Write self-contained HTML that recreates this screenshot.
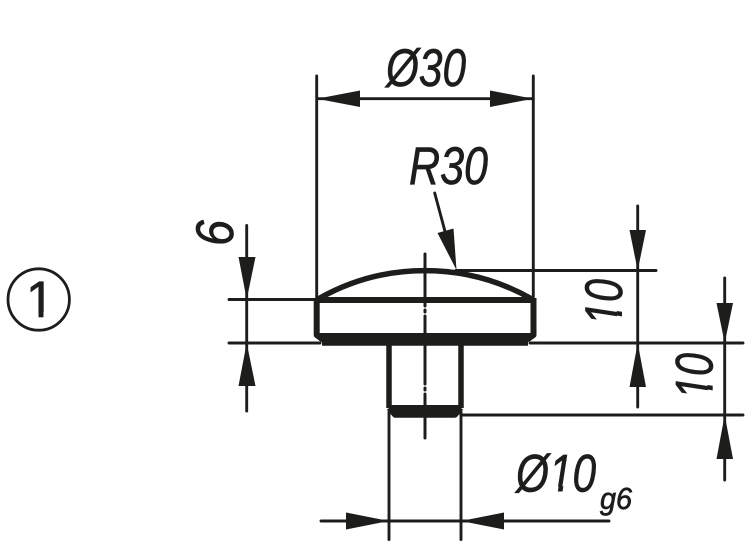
<!DOCTYPE html>
<html>
<head>
<meta charset="utf-8">
<style>
html,body{margin:0;padding:0;background:#fff}
svg{display:block}
text{font-family:"Liberation Sans",sans-serif;fill:#1d1d1b;stroke:#1d1d1b;stroke-width:.7px;font-kerning:none}
.i{font-style:italic;font-size:53px}
</style>
</head>
<body>
<svg width="750" height="547" viewBox="0 0 750 547" xmlns="http://www.w3.org/2000/svg">
<defs>
<clipPath id="nofoot"><rect x="-10" y="-60" width="100" height="55"/></clipPath>
<clipPath id="nofoot2"><rect x="0" y="260" width="80" height="52"/></clipPath>
</defs>
<rect width="750" height="547" fill="#fff"/>
<!-- thin lines -->
<g stroke="#1d1d1b" stroke-width="2.9" fill="none" stroke-linecap="round">
<path d="M316.7 76V298M533.3 76V298"/>
<path d="M317 98.7H533"/>
<path d="M246.7 225.5V411"/>
<path d="M229 299.5H316M229 343H320"/>
<path d="M637.7 206V407"/>
<path d="M456 270.5H656"/>
<path d="M530 343H743"/>
<path d="M724.7 278V480"/>
<path d="M461 415H743"/>
<path d="M321 521H609"/>
<path d="M389 412V539.5M461 412V539.5"/>
<path d="M434.7 193L450 250"/>
</g>
<!-- arrowheads -->
<g fill="#1d1d1b">
<path d="M317 98.7L360 90.5V107Z"/>
<path d="M533 98.7L490 90.5V107Z"/>
<path d="M246.7 299.5L238.5 257H255.5Z"/>
<path d="M246.7 343L238.5 386H255.5Z"/>
<path d="M637.7 270.5L629.5 230H646Z"/>
<path d="M637.7 343L629.5 387H646Z"/>
<path d="M724.7 343L716.5 303H733Z"/>
<path d="M724.7 415L716.5 459H733Z"/>
<path d="M389 521L346 512.5V529.5Z"/>
<path d="M461 521L504 512.5V529.5Z"/>
<path d="M456.5 270L437.5 233L453.5 228.5Z"/>
</g>
<!-- centre line -->
<g stroke="#1d1d1b" stroke-width="3" fill="none">
<path d="M425 254V306M425 310V312M425 316V384M425 388V390M425 394V438" stroke-linecap="round"/>
</g>
<!-- part body -->
<g stroke="#1d1d1b" fill="none" stroke-linejoin="round">
<path d="M319 298.5C350 281 385 270.6 425 270.6C465 270.6 500 281 531 298.5" stroke-width="5.5"/>
<path d="M317 300H533.5" stroke-width="6"/>
<path d="M316.7 298V335L322 339H528L533.5 335V298" stroke-width="6"/>
<path d="M318 336H532" stroke-width="6"/>
<path d="M322 343H528" stroke-width="5.5"/>
<path d="M389 343V408M461 343V408" stroke-width="5.5"/>
<path d="M389 408H461" stroke-width="6"/>
<path d="M389 408L395 415H455L461 408" stroke-width="5.5"/>
<path d="M394 411.5H456" stroke-width="4"/>
</g>
<!-- labels -->
<text class="i" x="386" y="86" textLength="80" lengthAdjust="spacingAndGlyphs">Ø30</text>
<text class="i" x="409" y="184" textLength="79" lengthAdjust="spacingAndGlyphs">R30</text>
<g transform="translate(516,491.5) scale(.8,1)">
<text class="i" x="0" y="0">Ø</text>
<text class="i" x="41.2" y="0" clip-path="url(#nofoot)">1</text>
<path d="M52.3 0H58.2L59.2 -5.2H53.3Z" fill="#1d1d1b"/>
<text class="i" x="70.7" y="0">0</text>
</g>
<text class="i" style="font-size:31px" x="600" y="509" textLength="32" lengthAdjust="spacingAndGlyphs">g6</text>
<text class="i" transform="translate(233,246) rotate(-90)" textLength="26" lengthAdjust="spacingAndGlyphs">6</text>
<g transform="translate(622,325) rotate(-90) scale(.78,1)">
<text class="i" x="0" y="0" clip-path="url(#nofoot)">1</text>
<path d="M11.1 0H17L18 -5.2H12.1Z" fill="#1d1d1b"/>
<text class="i" x="29.5" y="0">0</text>
</g>
<g transform="translate(712.7,399) rotate(-90) scale(.78,1)">
<text class="i" x="0" y="0" clip-path="url(#nofoot)">1</text>
<path d="M11.1 0H17L18 -5.2H12.1Z" fill="#1d1d1b"/>
<text class="i" x="29.5" y="0">0</text>
</g>
<!-- circled number -->
<circle cx="38.7" cy="299.5" r="30.7" fill="none" stroke="#1d1d1b" stroke-width="2.8"/>
<text x="26" y="317" style="font-size:51px" clip-path="url(#nofoot2)">1</text>
<rect x="38.5" y="310" width="5" height="7.3" fill="#1d1d1b"/>
</svg>
</body>
</html>
